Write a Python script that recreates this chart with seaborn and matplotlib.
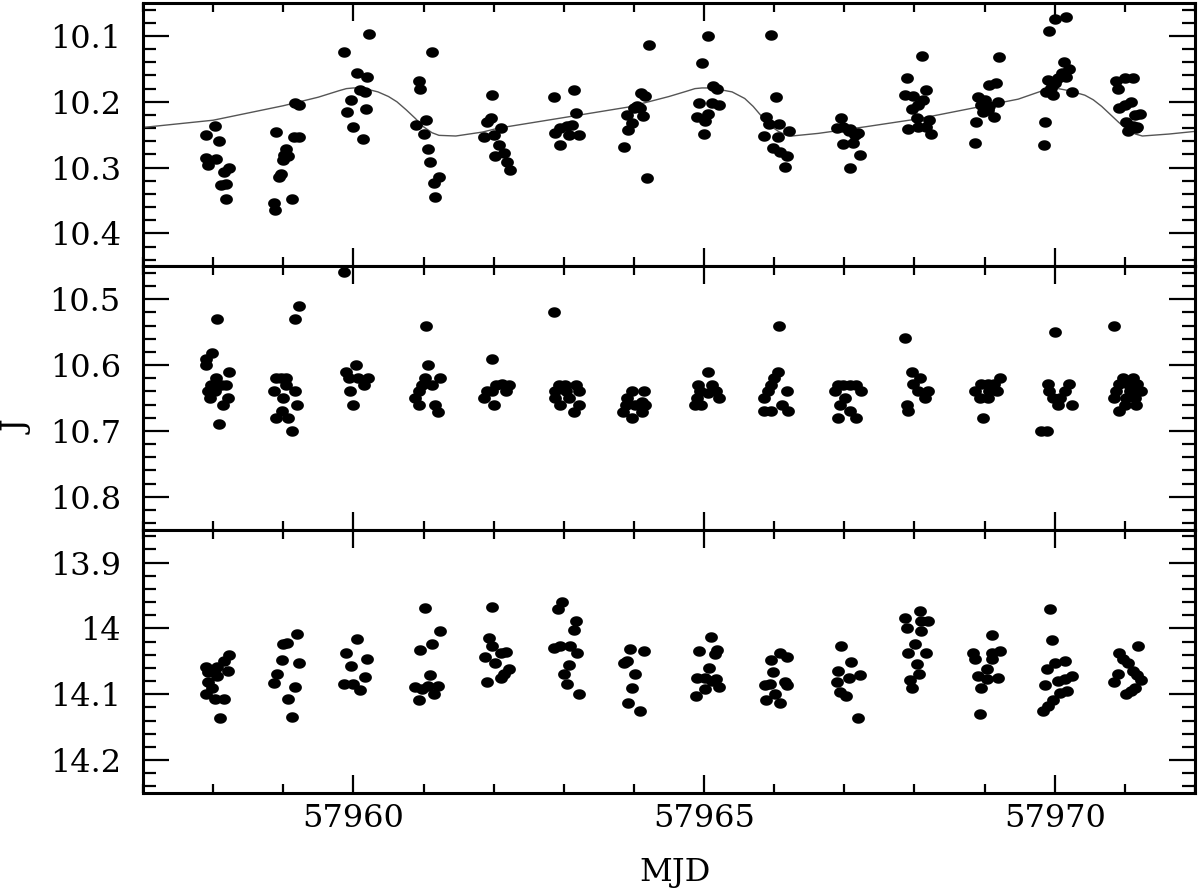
import numpy as np
import pandas as pd
import matplotlib
matplotlib.use("Agg")
import matplotlib.pyplot as plt
from matplotlib.ticker import MultipleLocator, FuncFormatter
from matplotlib.path import Path
import seaborn as sns

# ---------------- data ----------------
top_mjd = [
    57958.02, 57957.90, 57958.09, 57957.90, 57958.04, 57957.92, 57958.16, 57958.23, 57958.11, 57958.18, 57958.19,
    57958.90, 57958.87, 57958.88, 57958.97, 57958.94, 57959.04, 57959.01, 57959.06, 57958.99, 57959.12, 57959.16,
    57959.23, 57959.15, 57959.22,
    57959.87, 57960.22, 57960.05, 57960.20, 57960.09, 57960.17, 57959.96, 57959.91, 57960.18, 57960.00, 57960.13,
    57961.12, 57960.93, 57960.95, 57961.04, 57960.89, 57961.01, 57961.07, 57961.09, 57961.22, 57961.15, 57961.17,
    57961.98, 57961.91, 57961.96, 57961.86, 57962.00, 57962.10, 57962.07, 57962.02, 57962.15, 57962.19, 57962.23,
    57962.86, 57963.14, 57963.17, 57962.88, 57962.95, 57963.05, 57963.12, 57963.21, 57963.07, 57962.94,
    57964.21, 57964.10, 57964.16, 57964.04, 57964.00, 57964.09, 57963.90, 57964.13, 57963.97, 57963.92, 57963.86,
    57964.19,
    57965.05, 57964.97, 57965.13, 57965.18, 57964.93, 57965.11, 57965.21, 57964.90, 57965.06, 57965.02, 57965.00,
    57965.96, 57966.03, 57965.89, 57965.92, 57966.07, 57966.21, 57965.86, 57966.05, 57965.99, 57966.08, 57966.18,
    57966.16,
    57966.95, 57966.89, 57966.98, 57967.08, 57967.20, 57966.98, 57967.13, 57967.22, 57967.08, 57967.15, 57967.06,
    57968.11, 57967.90, 57967.87, 57967.98, 57968.16, 57968.12, 57968.05, 57967.96, 57968.03, 57968.21, 57967.91,
    57968.05, 57968.17, 57968.23,
    57969.21, 57969.06, 57969.17, 57968.90, 57969.00, 57969.19, 57968.95, 57969.07, 57969.05, 57968.98, 57969.14,
    57968.88, 57968.86,
    57970.00, 57970.16, 57969.92, 57970.13, 57970.21, 57970.11, 57970.16, 57970.04, 57969.90, 57970.00, 57969.95,
    57969.87, 57969.97, 57970.24, 57969.86, 57969.85,
    57970.87, 57971.00, 57971.11, 57970.90, 57971.09, 57971.00, 57970.92, 57971.21, 57971.14, 57971.02, 57971.18,
    57971.11, 57971.04, 57971.16,
]
top_mag = [
    10.237, 10.250, 10.259, 10.286, 10.287, 10.296, 10.306, 10.301, 10.326, 10.325, 10.348,
    10.246, 10.354, 10.364, 10.309, 10.314, 10.271, 10.281, 10.283, 10.288, 10.347, 10.202,
    10.205, 10.254, 10.253,
    10.125, 10.097, 10.156, 10.163, 10.182, 10.185, 10.197, 10.216, 10.211, 10.238, 10.257,
    10.124, 10.168, 10.181, 10.228, 10.235, 10.249, 10.272, 10.291, 10.314, 10.324, 10.345,
    10.190, 10.230, 10.225, 10.253, 10.250, 10.240, 10.266, 10.283, 10.278, 10.291, 10.303,
    10.192, 10.182, 10.217, 10.248, 10.240, 10.237, 10.235, 10.250, 10.250, 10.266,
    10.114, 10.187, 10.191, 10.207, 10.210, 10.210, 10.220, 10.222, 10.232, 10.243, 10.269,
    10.316,
    10.100, 10.141, 10.176, 10.181, 10.202, 10.202, 10.205, 10.223, 10.218, 10.229, 10.249,
    10.098, 10.192, 10.223, 10.233, 10.234, 10.245, 10.252, 10.253, 10.270, 10.277, 10.282,
    10.299,
    10.225, 10.240, 10.238, 10.242, 10.248, 10.264, 10.263, 10.281, 10.301, 10.250, 10.245,
    10.130, 10.164, 10.190, 10.191, 10.182, 10.197, 10.205, 10.211, 10.225, 10.227, 10.241,
    10.238, 10.239, 10.249,
    10.132, 10.175, 10.172, 10.193, 10.197, 10.200, 10.205, 10.207, 10.212, 10.215, 10.223,
    10.231, 10.262,
    10.075, 10.071, 10.092, 10.139, 10.150, 10.157, 10.163, 10.164, 10.167, 10.172, 10.179,
    10.185, 10.190, 10.185, 10.230, 10.266,
    10.169, 10.164, 10.164, 10.181, 10.200, 10.205, 10.210, 10.219, 10.220, 10.230, 10.238,
    10.237, 10.244, 10.240,
]

mid_mjd = [
    57958.06, 57957.99, 57957.90, 57957.90, 57958.23, 57958.04, 57958.11, 57958.18, 57957.97, 57957.92, 57958.02,
    57957.96, 57958.21, 57958.14, 57958.09,
    57959.23, 57959.17, 57958.90, 57959.04, 57958.97, 57959.04, 57958.87, 57959.16, 57959.00, 57959.20, 57958.98,
    57958.89, 57959.07, 57959.12,
    57959.87, 57960.04, 57959.89, 57959.94, 57960.06, 57960.21, 57960.15, 57959.95, 57960.00,
    57961.04, 57961.07, 57961.02, 57961.23, 57960.98, 57961.12, 57960.93, 57960.88, 57960.93, 57961.16, 57961.21,
    57961.98, 57961.91, 57961.86, 57962.00, 57962.03, 57962.12, 57962.22, 57962.17, 57961.98,
    57962.86, 57962.93, 57963.02, 57963.17, 57962.88, 57963.03, 57963.21, 57962.87, 57963.07, 57962.95, 57963.21,
    57963.14,
    57963.97, 57964.14, 57963.90, 57964.11, 57964.16, 57963.88, 57964.02, 57963.85, 57964.11, 57963.97,
    57965.05, 57964.92, 57965.11, 57965.17, 57964.94, 57965.06, 57964.90, 57965.21, 57964.87, 57964.96,
    57966.07, 57966.05, 57966.00, 57965.96, 57965.91, 57966.18, 57965.86, 57966.11, 57965.85, 57965.96, 57966.20,
    57966.87, 57966.91, 57966.98, 57967.08, 57967.17, 57967.24, 57967.01, 57966.94, 57967.08, 57966.91, 57967.17,
    57967.86, 57967.96, 57968.08, 57967.98, 57968.19, 57968.05, 57968.15, 57967.89, 57967.91,
    57969.22, 57968.86, 57968.95, 57969.05, 57969.14, 57969.18, 57969.07, 57968.93, 57969.05, 57968.98,
    57970.00, 57969.90, 57970.21, 57969.92, 57970.14, 57969.97, 57970.07, 57970.04, 57970.24, 57969.81, 57969.89,
    57970.85, 57970.97, 57971.11, 57971.18, 57970.92, 57971.04, 57971.23, 57970.88, 57971.07, 57970.85, 57971.14,
    57971.02, 57971.16, 57971.00, 57970.92,
]
mid_mag = [
    10.530, 10.581, 10.590, 10.600, 10.610, 10.620, 10.630, 10.630, 10.630, 10.639, 10.639,
    10.650, 10.650, 10.661, 10.690,
    10.510, 10.530, 10.620, 10.620, 10.620, 10.630, 10.640, 10.640, 10.650, 10.661, 10.670,
    10.680, 10.680, 10.700,
    10.459, 10.600, 10.610, 10.620, 10.620, 10.620, 10.630, 10.640, 10.661,
    10.540, 10.600, 10.620, 10.620, 10.630, 10.630, 10.640, 10.650, 10.661, 10.661, 10.671,
    10.591, 10.640, 10.650, 10.660, 10.630, 10.629, 10.630, 10.640, 10.639,
    10.520, 10.630, 10.630, 10.630, 10.640, 10.640, 10.640, 10.650, 10.650, 10.661, 10.661,
    10.671,
    10.640, 10.639, 10.650, 10.656, 10.661, 10.661, 10.661, 10.671, 10.671, 10.681,
    10.610, 10.630, 10.630, 10.639, 10.640, 10.643, 10.650, 10.650, 10.660, 10.660,
    10.540, 10.610, 10.620, 10.630, 10.640, 10.640, 10.650, 10.660, 10.670, 10.670, 10.670,
    10.639, 10.630, 10.630, 10.630, 10.630, 10.639, 10.650, 10.660, 10.670, 10.680, 10.680,
    10.559, 10.610, 10.620, 10.629, 10.639, 10.639, 10.650, 10.660, 10.670,
    10.619, 10.639, 10.629, 10.629, 10.629, 10.639, 10.639, 10.650, 10.650, 10.680,
    10.550, 10.629, 10.629, 10.639, 10.639, 10.650, 10.650, 10.660, 10.660, 10.700, 10.700,
    10.540, 10.619, 10.619, 10.629, 10.629, 10.629, 10.639, 10.639, 10.639, 10.650, 10.650,
    10.650, 10.660, 10.660, 10.670,
]

bot_mjd = [
    57958.22, 57958.16, 57957.90, 57958.06, 57957.92, 57958.21, 57958.05, 57957.92, 57957.99, 57957.90, 57958.02,
    57958.16, 57958.10,
    57959.20, 57958.99, 57959.05, 57958.98, 57959.23, 57958.91, 57958.87, 57959.16, 57959.07, 57959.12,
    57960.05, 57959.89, 57960.20, 57959.97, 57960.16, 57959.87, 57959.99, 57960.10,
    57961.02, 57961.23, 57961.12, 57960.95, 57961.09, 57960.88, 57960.98, 57961.07, 57961.20, 57961.15, 57960.93,
    57961.98, 57961.93, 57961.97, 57961.87, 57962.10, 57962.17, 57962.02, 57962.22, 57962.15, 57962.10, 57961.91,
    57962.98, 57962.92, 57963.17, 57963.14, 57962.86, 57962.95, 57963.09, 57963.19, 57963.08, 57963.00, 57963.04,
    57963.21,
    57963.95, 57964.15, 57963.86, 57963.90, 57964.02, 57963.97, 57963.91, 57964.08,
    57965.10, 57964.93, 57965.18, 57965.15, 57965.07, 57964.90, 57965.02, 57965.11, 57965.17, 57965.22, 57965.02,
    57964.88,
    57966.08, 57966.18, 57965.96, 57965.99, 57965.87, 57965.94, 57966.15, 57966.18, 57966.01, 57965.88, 57966.08,
    57966.95, 57967.10, 57966.91, 57967.22, 57967.06, 57966.89, 57966.94, 57967.03, 57967.19,
    57967.87, 57968.08, 57968.10, 57968.20, 57967.89, 57968.10, 57968.01, 57967.91, 57968.17, 57968.03, 57968.06,
    57967.93, 57967.97,
    57969.11, 57968.84, 57968.86, 57969.10, 57969.22, 57969.10, 57969.03, 57968.90, 57969.03, 57969.19, 57968.95,
    57968.93,
    57969.93, 57969.96, 57970.14, 57970.00, 57969.89, 57970.24, 57970.14, 57970.05, 57969.86, 57970.18, 57970.07,
    57969.97, 57969.90, 57969.83,
    57971.19, 57970.92, 57970.97, 57971.04, 57970.90, 57971.11, 57971.18, 57970.85, 57971.23, 57971.14, 57971.09,
    57971.02,
]
bot_mag = [
    14.041, 14.049, 14.058, 14.058, 14.066, 14.065, 14.073, 14.082, 14.090, 14.100, 14.107,
    14.107, 14.136,
    14.009, 14.024, 14.022, 14.048, 14.052, 14.070, 14.083, 14.089, 14.107, 14.135,
    14.016, 14.037, 14.047, 14.057, 14.074, 14.084, 14.084, 14.094,
    13.969, 14.004, 14.024, 14.033, 14.071, 14.089, 14.092, 14.088, 14.087, 14.100, 14.109,
    13.967, 14.014, 14.027, 14.043, 14.037, 14.036, 14.052, 14.062, 14.070, 14.076, 14.081,
    13.960, 13.971, 13.988, 14.002, 14.029, 14.027, 14.027, 14.038, 14.055, 14.070, 14.085,
    14.100,
    14.032, 14.034, 14.052, 14.049, 14.070, 14.091, 14.114, 14.126,
    14.013, 14.035, 14.033, 14.039, 14.060, 14.075, 14.075, 14.080, 14.077, 14.089, 14.092,
    14.103,
    14.038, 14.043, 14.048, 14.066, 14.086, 14.085, 14.082, 14.086, 14.099, 14.108, 14.113,
    14.026, 14.051, 14.065, 14.071, 14.075, 14.082, 14.097, 14.102, 14.136,
    13.984, 13.973, 13.988, 13.988, 13.999, 14.004, 14.023, 14.038, 14.037, 14.054, 14.070,
    14.079, 14.090,
    14.010, 14.038, 14.047, 14.037, 14.034, 14.046, 14.061, 14.072, 14.077, 14.075, 14.090,
    14.130,
    13.971, 14.017, 14.050, 14.053, 14.061, 14.072, 14.077, 14.080, 14.086, 14.095, 14.098,
    14.108, 14.118, 14.125,
    14.027, 14.037, 14.046, 14.053, 14.070, 14.065, 14.071, 14.082, 14.079, 14.090, 14.095,
    14.100,
]

curve_mjd = [57957.0, 57958.0, 57959.0, 57959.5, 57959.8, 57959.9, 57960.0, 57960.1, 57960.2, 57960.35,
             57960.5, 57960.62, 57960.75, 57960.88, 57961.0, 57961.12, 57961.22, 57961.46, 57961.84,
             57962.07, 57963.0, 57963.92, 57964.5, 57964.75, 57964.87, 57964.97, 57965.06, 57965.2,
             57965.4, 57965.58, 57965.7, 57965.82, 57965.94, 57966.06, 57966.16, 57966.25, 57966.63,
             57967.3, 57968.05, 57969.48, 57969.75, 57969.86, 57969.96, 57970.05, 57970.2, 57970.43,
             57970.55, 57970.67, 57970.79, 57970.91, 57971.03, 57971.15, 57971.25, 57971.63, 57972.0]
curve_mag = [10.239, 10.228, 10.206, 10.193, 10.183, 10.180, 10.179, 10.179, 10.181, 10.185,
             10.192, 10.200, 10.212, 10.225, 10.238, 10.247, 10.251, 10.252, 10.246,
             10.240, 10.224, 10.208, 10.192, 10.184, 10.180, 10.179, 10.179, 10.181,
             10.185, 10.195, 10.207, 10.222, 10.236, 10.245, 10.250, 10.252, 10.248,
             10.238, 10.226, 10.196, 10.186, 10.182, 10.180, 10.180, 10.183, 10.190,
             10.197, 10.207, 10.219, 10.231, 10.242, 10.249, 10.252, 10.249, 10.245]

x_limits = (57957, 57972)
y_limits = [(10.45, 10.05), (10.85, 10.45), (14.25, 13.85)]

# ---------------- style ----------------
sns.set_style("ticks")
plt.rcParams["font.family"] = ["DejaVu Serif"]
plt.rcParams["mathtext.fontset"] = "dejavuserif"
plt.rcParams["text.color"] = "black"
plt.rcParams["xtick.color"] = "black"
plt.rcParams["ytick.color"] = "black"
plt.rcParams["axes.labelcolor"] = "black"

fig, axes = plt.subplots(3, 1, sharex=True, figsize=(12, 8.92), dpi=100,
                         gridspec_kw=dict(hspace=0))
fig.subplots_adjust(left=0.1192, right=0.9958, bottom=0.111, top=0.9966)

theta = np.linspace(0, 2 * np.pi, 41)
ell = Path(np.column_stack([np.cos(theta), 0.82 * np.sin(theta)]), closed=True)

frames = [pd.DataFrame({"MJD": top_mjd, "J": top_mag}),
          pd.DataFrame({"MJD": mid_mjd, "J": mid_mag}),
          pd.DataFrame({"MJD": bot_mjd, "J": bot_mag})]
curve = pd.DataFrame({"MJD": curve_mjd, "J": curve_mag})

fmt_y = FuncFormatter(lambda v, p: f"{round(v, 3):g}")
fmt_x = FuncFormatter(lambda v, p: f"{int(round(v))}")

for i, (ax, df) in enumerate(zip(axes, frames)):
    if i == 0:
        sns.lineplot(data=curve, x="MJD", y="J", ax=ax, color="#555555",
                     linewidth=1.0, sort=False, estimator=None, legend=False)
    sns.scatterplot(data=df, x="MJD", y="J", ax=ax, color="black", marker=ell,
                    s=85, linewidth=0, edgecolor="black", legend=False, zorder=3)
    ax.set_xlim(*x_limits)
    ax.set_ylim(*y_limits[i])
    ax.set_xlabel("")
    ax.set_ylabel("")
    ax.yaxis.set_major_locator(MultipleLocator(0.1))
    ax.yaxis.set_minor_locator(MultipleLocator(0.02))
    ax.xaxis.set_major_locator(MultipleLocator(5))
    ax.xaxis.set_minor_locator(MultipleLocator(1))
    ax.yaxis.set_major_formatter(fmt_y)
    ax.xaxis.set_major_formatter(fmt_x)
    ax.tick_params(axis="y", which="major", direction="in", length=18.5, width=1.6,
                   left=True, right=True, labelsize=23, pad=16, colors="black")
    ax.tick_params(axis="y", which="minor", direction="in", length=9.3, width=1.6,
                   left=True, right=True, colors="black")
    ax.tick_params(axis="x", which="major", direction="in", length=13, width=1.6,
                   top=True, bottom=True, labelsize=23, pad=7, colors="black")
    ax.tick_params(axis="x", which="minor", direction="in", length=6.5, width=1.6,
                   top=True, bottom=True, colors="black")
    for sp in ax.spines.values():
        sp.set_visible(True)
        sp.set_linewidth(2.2)
        sp.set_color("black")

for ax in axes[:-1]:
    ax.tick_params(axis="x", labelbottom=False)

fig.text(18 / 1200, 1 - 428 / 892, "J", rotation=90, ha="center", va="center",
         fontsize=23, color="black")
fig.text(675 / 1200, 1 - 873 / 892, "MJD", ha="center", va="center",
         fontsize=23, color="black")

fig.savefig("out.png", dpi=100)
